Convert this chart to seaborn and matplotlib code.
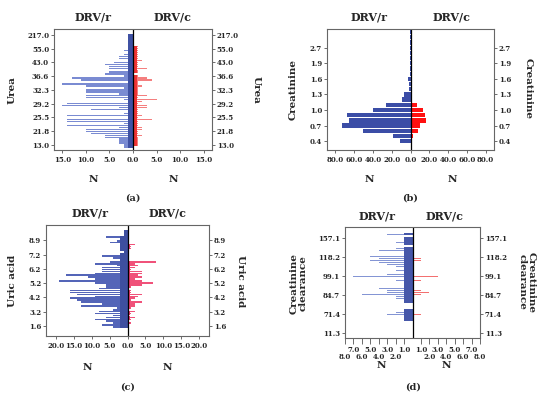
import numpy as np
import pandas as pd
import seaborn as sns
import matplotlib
matplotlib.use("Agg")
import matplotlib.pyplot as plt

# bins are listed from top to bottom of each pyramid
urea_ticks = ["217.0", "55.0", "43.0", "36.6", "32.3", "29.2", "25.5", "21.8", "13.0"]
urea_r = [1, 1, 1, 1, 1, 1, 1, 1, 2, 1, 2, 3, 3, 1, 4, 6, 5, 5, 1, 5,
          6, 2, 13, 11, 1, 15, 10, 2, 10, 10, 3, 10, 10, 2, 1, 14, 15, 3, 9, 1,
          2, 14, 1, 14, 14, 2, 14, 3, 10, 10, 9, 6, 6, 3, 3, 3, 2, 2]
urea_c = [0, 0, 0, 0, 0, 0, 1, 1, 1, 1, 1, 1, 1, 2, 1, 1, 1, 3, 1, 1,
          0, 1, 3, 4, 1, 1, 2, 1, 1, 1, 1, 3, 1, 5, 2, 1, 3, 3, 1, 1,
          1, 2, 1, 4, 1, 1, 1, 2, 2, 1, 1, 2, 1, 1, 1, 1, 1, 0]

creat_ticks = ["2.7", "1.9", "1.6", "1.3", "1.0", "0.7", "0.4"]
creat_r = [1, 1, 1, 1, 1, 1, 1, 1, 1, 3, 2, 2, 7, 9, 26, 40, 68, 66, 73, 51, 19, 11]
creat_c = [0, 0, 0, 0, 0, 0, 0, 0, 0, 1, 0, 0, 1, 2, 7, 13, 15, 17, 10, 8, 3, 1]

uric_ticks = ["8.9", "7.2", "6.2", "5.2", "4.2", "3.2", "1.6"]
uric_r = [1, 1, 1, 6, 2, 3, 5, 2, 2, 2, 2, 1, 2, 7, 4, 2, 5, 9, 3, 7,
          7, 7, 9, 17, 11, 9, 19, 9, 6, 6, 8, 16, 16, 14, 9, 16, 14, 13, 7, 13,
          3, 4, 8, 9, 4, 6, 9, 6, 4, 7, 4]
uric_c = [0, 0, 0, 0, 0, 0, 0, 2, 1, 1, 0, 0, 0, 0, 0, 0, 8, 2, 3, 2,
          1, 4, 4, 3, 4, 2, 4, 7, 4, 1, 0, 1, 1, 4, 3, 2, 1, 4, 2, 2,
          1, 0, 2, 1, 0, 2, 1, 0, 1, 0, 0]

clear_ticks = ["157.1", "118.2", "99.1", "84.7", "71.4", "11.3"]
clear_r = [3, 0, 1, 1, 2, 1, 0, 2, 4, 1, 1, 5, 4, 5, 4, 3, 2, 1, 2, 1,
           3, 7, 1, 2, 1, 1, 1, 4, 3, 3, 6, 2, 2, 1, 1, 0, 0, 0, 1, 2,
           3, 1, 1, 1, 0]
clear_c = [0, 0, 0, 0, 0, 0, 0, 0, 0, 0, 0, 0, 1, 1, 0, 0, 0, 0, 0, 0,
           0, 3, 0, 1, 0, 0, 0, 0, 1, 2, 1, 0, 0, 0, 0, 0, 0, 0, 0, 0,
           1, 0, 0, 0, 0]

sns.set_style("white")
plt.rcParams["font.family"] = ["DejaVu Serif"]
plt.rcParams["font.weight"] = "bold"

W, H = 550, 398
fig = plt.figure(figsize=(W / 100, H / 100), dpi=100)


def txt(x, y, s, size=8, **kw):
    fig.text(x / W, 1 - y / H, s, fontsize=size, fontweight="bold",
             ha="center", va="center", **kw)


def pyramid(rect, left, right, ylabels, ypos, ylim, xmax, xticks, st):
    x0, y0, x1, y1 = rect
    ax = fig.add_axes([x0 / W, 1 - y1 / H, (x1 - x0) / W, (y1 - y0) / H])
    left = np.asarray(left, float)
    right = np.asarray(right, float)
    df = pd.DataFrame({"pos": np.arange(len(left)), "r": -left, "c": right,
                       "r_core": -np.minimum(left, st["cap_r"]),
                       "c_core": np.minimum(right, st["cap_c"])})
    layers = [("r", st["blue"], st["h"]), ("c", st["red"], st["h"])]
    if st["cap_r"] > 0:
        layers.append(("r_core", st["blue_core"], 1.0))
    if st["cap_c"] > 0:
        layers.append(("c_core", st["red_core"], 1.0))
    for col, color, w in layers:
        sns.barplot(data=df, x=col, y="pos", orient="y", native_scale=True,
                    width=w, color=color, saturation=1, errorbar=None,
                    linewidth=0, ax=ax)
    ax.axvline(0, color="black", lw=0.9)
    ax.set_xlim(-xmax, xmax)
    ax.set_ylim(ylim[1], ylim[0])
    ax.set_yticks(ypos)
    ax.set_yticklabels(ylabels)
    ax.set_xticks(xticks)
    ax.set_xticklabels([f"{abs(v):.1f}" for v in xticks])
    ax.set_xlabel("")
    ax.set_ylabel("")
    ax.tick_params(axis="y", left=True, right=True, labelleft=True,
                   labelright=True, length=2.5, width=0.6, color="#555555",
                   pad=1, labelsize=5)
    ax.tick_params(axis="x", bottom=True, length=2.5, width=0.6,
                   color="#555555", pad=2, labelsize=5)
    for s in ax.spines.values():
        s.set_color("#666666")
        s.set_linewidth(0.8)
    return ax


# (a) Urea
pyramid((54, 29, 212, 150), urea_r, urea_c, urea_ticks,
        [0, 7, 14, 21, 28, 35, 42, 49, 56], (-2.9, 58.5), 16.8,
        [-15, -10, -5, 0, 5, 10, 15],
        dict(blue="#7a8bd2", red="#f47f7f", h=0.68, cap_r=1.1, cap_c=0.8,
             blue_core="#3f51a3", red_core="#ee3434"))
txt(93, 17, "DRV/r")
txt(173, 17, "DRV/c")
txt(93, 180, "N", 7.5)
txt(173, 180, "N", 7.5)
txt(133, 198, "(a)", 7)
txt(12, 90, "Urea", 7.5, rotation=90)
txt(256, 90, "Urea", 7.5, rotation=-90)

# (b) Creatinine
pyramid((327, 29, 494, 150), creat_r, creat_c, creat_ticks,
        [3, 6, 9, 12, 15, 18, 21], (-0.6, 22.7), 89,
        list(range(-80, 81, 20)),
        dict(blue="#3b4da6", red="#ff1010", h=0.82, cap_r=0, cap_c=0,
             blue_core="#3b4da6", red_core="#ff1010"))
txt(369, 17, "DRV/r")
txt(452, 17, "DRV/c")
txt(369, 180, "N", 7.5)
txt(452, 180, "N", 7.5)
txt(410, 198, "(b)", 7)
txt(293, 89, "Creatinine", 7.5, rotation=90)
txt(528, 89, "Creatinine", 7.5, rotation=-90)

# (c) Uric acid
pyramid((46, 225, 209, 336), uric_r, uric_c, uric_ticks,
        [4.7, 12.2, 19.6, 27.1, 34.6, 42.0, 49.5], (-3.2, 54.7), 22.7,
        list(range(-20, 21, 5)),
        dict(blue="#5465b8", red="#f0527a", h=0.82, cap_r=2.0, cap_c=0.8,
             blue_core="#3e4f9f", red_core="#e8386a"))
txt(90, 213, "DRV/r")
txt(168, 213, "DRV/c")
txt(87, 367, "N", 7.5)
txt(167, 367, "N", 7.5)
txt(128, 387, "(c)", 7)
txt(13, 281, "Uric acid", 7.5, rotation=90)
txt(240, 281, "Uric acid", 7.5, rotation=-90)

# (d) Creatinine clearance
d_ticks = [-8, -7, -6, -5, -4, -3, -2, -1, 1, 2, 3, 4, 5, 6, 7, 8]
axd = pyramid((345, 227, 480, 338), clear_r, clear_c, clear_ticks,
              [1.7, 11.2, 20.8, 30.3, 39.7, 49.2], (-3.7, 51.8), 8.0,
              d_ticks,
              dict(blue="#8495d4", red="#f37070", h=0.6, cap_r=1.0, cap_c=0,
                   blue_core="#4657a9", red_core="#f37070"))
for v, tick in zip(d_ticks, axd.xaxis.get_major_ticks()):
    tick.set_pad(1.5 if v % 2 else 7)
axd.tick_params(axis="x", length=4)
txt(377, 216, "DRV/r")
txt(445, 216, "DRV/c")
txt(381, 366, "N", 7.5)
txt(446, 366, "N", 7.5)
txt(413, 387, "(d)", 7)
txt(299, 283, "Creatinine\nclearance", 7.5, rotation=90, linespacing=1.0)
txt(527, 282, "Creatinine\nclearance", 7.5, rotation=-90, linespacing=1.0)

fig.savefig("out.png", dpi=100, facecolor="white")
